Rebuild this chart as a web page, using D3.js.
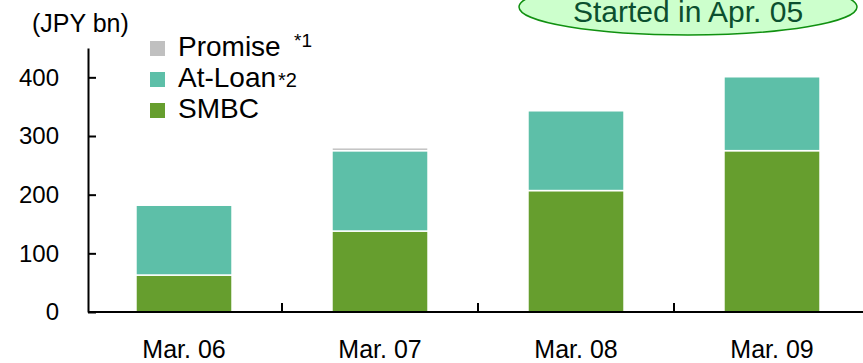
<!DOCTYPE html>
<html>
<head>
<meta charset="utf-8">
<script src="https://cdn.jsdelivr.net/npm/d3@7"></script>
<style>
  body { margin: 0; background: #fff; }
  svg { display: block; font-family: "Liberation Sans", Arial, sans-serif; }
  .axis path, .axis line { stroke: #000; stroke-width: 2; }
  .axis text { fill: #000; }
</style>
</head>
<body>
<svg id="chart" width="863" height="363"></svg>
<script>
// data (JPY bn)
var categories = ["Mar. 06", "Mar. 07", "Mar. 08", "Mar. 09"];
var smbc = [63, 138, 207, 275];
var atLoan = [119, 137, 136, 126];
var promise = [0, 5, 0, 0];
var yTicks = [0, 100, 200, 300, 400];
var seriesNames = ["SMBC", "At-Loan", "Promise"];
var colors = { "SMBC": "#669e2e", "At-Loan": "#5dbfa8", "Promise": "#c0c0c0" };

var svg = d3.select("#chart");

var rows = categories.map(function(c, i) {
    return { cat: c, "SMBC": smbc[i], "At-Loan": atLoan[i], "Promise": promise[i] };
});

var x = d3.scaleBand().domain(categories).range([86, 870]).paddingInner(0.51).paddingOuter(0.255);
var y = d3.scaleLinear().domain([0, 450]).range([312, 48]);

var stacked = d3.stack().keys(seriesNames)(rows);

// bars
svg.append("g").selectAll("g")
    .data(stacked)
    .enter().append("g")
    .attr("fill", function(d) { return colors[d.key]; })
    .selectAll("rect")
    .data(function(d) { return d; })
    .enter().append("rect")
    .filter(function(d) { return d[1] - d[0] > 0; })
    .attr("x", function(d) { return x(d.data.cat); })
    .attr("width", x.bandwidth())
    .attr("y", function(d) { return y(d[1]); })
    .attr("height", function(d) { return y(d[0]) - y(d[1]); })
    .style("stroke", "#fff")
    .style("stroke-width", 1.5);

// y axis, ticks pointing inward
svg.append("g")
    .attr("class", "axis")
    .attr("transform", "translate(88,0)")
    .call(d3.axisLeft(y).tickValues(yTicks).tickSize(-8).tickPadding(29).tickSizeOuter(0))
    .selectAll("text")
    .style("font-size", "24px");

// x axis with labels
var xAxis = svg.append("g")
    .attr("class", "axis")
    .attr("transform", "translate(0,312)")
    .call(d3.axisBottom(x).tickSize(0).tickPadding(28));
xAxis.selectAll("text").style("font-size", "25px");
xAxis.select(".domain").attr("d", "M88,0H863");

// category separators, pointing up
var gap = x.step() * x.paddingInner();
xAxis.selectAll(".sep")
    .data(categories)
    .enter().append("line")
    .attr("class", "sep")
    .attr("x1", function(d) { return x(d) + x.bandwidth() + gap / 2; })
    .attr("x2", function(d) { return x(d) + x.bandwidth() + gap / 2; })
    .attr("y1", 0)
    .attr("y2", -9);

// unit label
svg.append("text")
    .attr("x", 32).attr("y", 32)
    .style("font-size", "25px")
    .text("(JPY bn)");

// legend
var legendItems = ["Promise", "At-Loan", "SMBC"];
var legend = svg.append("g").selectAll("g")
    .data(legendItems)
    .enter().append("g")
    .attr("transform", function(d, i) { return "translate(150," + (56 + i * 31) + ")"; });
legend.append("rect")
    .attr("x", 0).attr("y", -15)
    .attr("width", 15).attr("height", 15)
    .attr("fill", function(d) { return colors[d]; });
legend.append("text")
    .attr("x", 28).attr("y", 0)
    .style("font-size", "28px")
    .text(function(d) { return d; });

svg.append("text").attr("x", 294).attr("y", 47).style("font-size", "19px").text("*1");
svg.append("text").attr("x", 278).attr("y", 87).style("font-size", "20px").text("*2");

// callout
svg.append("ellipse")
    .attr("cx", 688).attr("cy", 7)
    .attr("rx", 169).attr("ry", 28)
    .attr("fill", "#ccffcc")
    .attr("stroke", "#109010")
    .attr("stroke-width", 1.5);
svg.append("text")
    .attr("x", 688).attr("y", 22)
    .attr("text-anchor", "middle")
    .style("font-size", "30px")
    .style("fill", "#0b4f2f")
    .text("Started in Apr. 05");
</script>
</body>
</html>
